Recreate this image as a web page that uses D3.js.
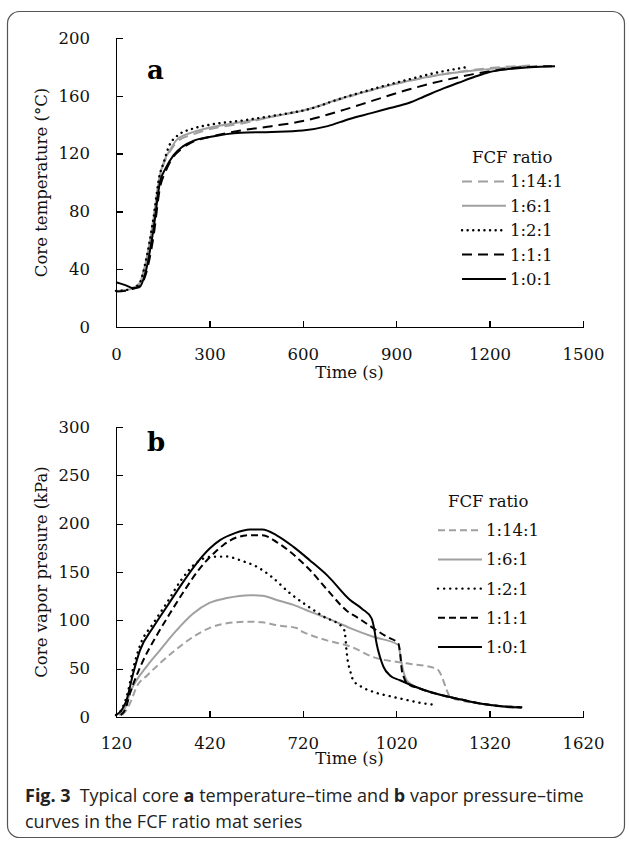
<!DOCTYPE html>
<html lang="en">
<head>
  <meta charset="UTF-8">
  <title>Core temperature and vapor pressure</title>
  <script src="https://d3js.org/d3.v7.min.js"></script>
  <style>
    body { margin: 0; background: #fff; }
    .axis path, .axis line { fill: none; stroke: #000; stroke-width: 1.3; shape-rendering: crispEdges; }
    .axis text { font-family: "DejaVu Serif", serif; font-size: 16.5px; fill: #111; }
    .lbl { font-family: "DejaVu Serif", serif; font-size: 16.5px; fill: #111; }
    .cap { font-family: "Open Sans", sans-serif; font-size: 18px; fill: #222; }
  </style>
</head>
<body>
  <svg id="svg" width="629" height="843"></svg>
  <script>
    // series names, in legend order
    var ratios = ['1:14:1', '1:6:1', '1:2:1', '1:1:1', '1:0:1']

    // (a) core temperature (°C) vs time (s)
    var tempA_1141 = [[0,25],[30,25.5],[55,27],[75,30],[95,44],[120,74],[140,103],[155,114],[175,122],[195,128],[250,133.5],[302,137],[409,141],[500,145.5],[623,151],[720,157.5],[830,164.5],[934,170],[1040,174.5],[1148,178],[1250,180],[1330,181]]
    var tempA_161 = [[0,25],[30,25.5],[55,27],[75,30],[95,44],[120,74],[140,104],[155,115],[175,123],[195,129.5],[250,135],[302,138],[409,142],[500,145.5],[623,151],[720,158],[830,164.5],[934,170],[1040,174.5],[1148,177.5],[1250,179.5],[1320,180.5]]
    var tempA_121 = [[0,25],[30,25.5],[55,27],[75,30],[95,45],[120,75],[140,105],[152,113],[170,125],[195,132],[250,137.5],[302,140],[409,143],[500,146],[623,151],[720,158],[830,165],[934,171],[1040,176.5],[1132,180]]
    var tempA_111 = [[0,24.5],[30,25],[55,26.5],[75,28],[95,36],[120,62],[141,96],[160,108],[185,118],[215,124],[250,128.5],[300,131.5],[400,136],[500,139],[600,142.5],[720,149.5],[830,157],[934,164],[1040,170],[1148,175],[1250,178.5],[1320,180],[1400,180.5]]
    var tempA_101 = [[0,31],[30,29],[55,27],[75,27.5],[95,38],[120,67],[141,100],[160,110],[185,119],[215,125],[250,129],[300,131.5],[400,134.5],[500,135],[600,136],[680,139],[750,144],[820,148],[880,151.5],[940,155],[990,159.5],[1050,165],[1100,169],[1150,173],[1200,176.5],[1260,178.5],[1330,179.8],[1410,180.5]]

    // (b) core vapor pressure (kPa) vs time (s)
    var presB_1141 = [[140,2],[155,8],[170,18],[186,31],[220,43],[261,55.5],[310,69],[368,83],[420,92],[476,97],[550,98.6],[590,98],[636,95],[700,92],[720,88],[743,85],[800,79],[872,73],[946,62],[1054,55.5],[1150,50],[1162,45],[1171,38],[1182,28],[1193,21],[1230,17],[1289,14],[1350,11],[1410,9]]
    var presB_161 = [[130,2],[150,10],[165,25],[186,38],[220,53],[261,69],[310,88],[368,107],[420,118],[476,123],[550,126],[590,125.5],[636,121],[690,116],[743,109],[800,102],[872,92],[946,83],[1027,74.5],[1035,60],[1045,45],[1054,38],[1100,29],[1161,23],[1230,18],[1289,14],[1350,11.5],[1420,10]]
    var presB_121 = [[120,2],[140,9],[155,22],[175,50],[197,74],[240,97],[283,118],[330,142],[380,160],[420,165.5],[475,166],[520,162],[572,155.5],[620,145],[679,128],[730,116],[786,104],[850,92],[856,85],[860,70],[864,59],[872,48],[882,38],[910,31],[946,26],[1000,21.5],[1054,17.6],[1100,14.5],[1150,12.4]]
    var presB_111 = [[135,2],[150,8],[165,24.5],[185,42],[208,59],[250,84],[293,107],[340,131],[390,154],[430,168],[465,178],[510,186],[550,188],[590,188],[636,181],[690,168],[743,152],[800,131],[861,110],[900,102],[946,92],[990,83],[1027,76],[1033,65],[1038,48.6],[1046,40],[1054,35],[1100,29],[1161,23],[1230,18],[1289,14],[1350,11.5],[1425,10]]
    var presB_101 = [[120,2],[140,8],[154,17.6],[175,45],[197,69],[240,93],[283,114],[330,137],[379,159],[420,174],[454,183],[500,190],[550,194],[590,194],[636,188],[690,176],[743,162],[800,146],[872,121],[910,112],[941,102],[950,90],[957,76],[968,62],[979,52],[1000,43],[1032,38],[1100,29],[1161,23],[1230,18],[1289,14],[1350,11.5],[1423,9.5]]

    var ticksA_x = [0, 300, 600, 900, 1200, 1500]
    var ticksA_y = [0, 40, 80, 120, 160, 200]
    var ticksB_x = [120, 420, 720, 1020, 1320, 1620]
    var ticksB_y = [0, 50, 100, 150, 200, 250, 300]

    var svg = d3.select('#svg')
    svg.append('rect').attr('width', 629).attr('height', 843).attr('fill', '#fff')
    svg.append('rect')
      .attr('x', 7.5).attr('y', 11.5).attr('width', 617).attr('height', 826)
      .attr('rx', 12).attr('fill', 'none').attr('stroke', '#555').attr('stroke-width', 1.2)

    // line styles per ratio (dash is filled in per panel)
    var styles = {
      '1:14:1': { color: '#a0a0a0', dash: 'd' },
      '1:6:1': { color: '#a0a0a0', dash: null },
      '1:2:1': { color: '#000', dash: 'dot' },
      '1:1:1': { color: '#000', dash: 'd' },
      '1:0:1': { color: '#000', dash: null }
    }

    function applyStyle(sel, name, opt) {
      var st = styles[name]
      sel.attr('fill', 'none')
        .attr('stroke', st.color)
        .attr('stroke-width', st.dash === 'dot' ? 2.4 : 2)
        .attr('stroke-dasharray', st.dash === 'dot' ? opt.dot : (st.dash ? opt.dash : null))
        .attr('stroke-linecap', st.dash === 'dot' ? 'round' : 'butt')
    }

    function panel(opt) {
      var x = d3.scaleLinear().domain(opt.xDomain).range([116, 583])
      var y = d3.scaleLinear().domain(opt.yDomain).range([opt.bottom, opt.top])
      var g = svg.append('g')

      g.append('g').attr('class', 'axis')
        .attr('transform', 'translate(0,' + opt.bottom + ')')
        .call(d3.axisBottom(x).tickValues(opt.xTicks).tickFormat(d3.format('d'))
          .tickSizeInner(-6).tickSizeOuter(-6).tickPadding(opt.xPad))
      g.append('g').attr('class', 'axis')
        .attr('transform', 'translate(116,0)')
        .call(d3.axisLeft(y).tickValues(opt.yTicks).tickFormat(d3.format('d'))
          .tickSizeInner(-7).tickSizeOuter(-7).tickPadding(26))
      g.selectAll('.axis').attr('font-family', '"DejaVu Serif", serif')

      var line = d3.line().x(d => x(d[0])).y(d => y(d[1])).curve(d3.curveMonotoneX)
      opt.series.forEach(function (s) {
        g.append('path').datum(s.data).attr('d', line).call(applyStyle, s.name, opt)
      })

      g.append('text').attr('class', 'lbl')
        .attr('x', 349.5).attr('y', opt.titleY)
        .attr('text-anchor', 'middle').text('Time (s)')
      g.append('text').attr('class', 'lbl')
        .attr('transform', 'translate(47,' + ((opt.top + opt.bottom) / 2) + ') rotate(-90)')
        .attr('text-anchor', 'middle').text(opt.yTitle)
      g.append('text')
        .attr('x', 147).attr('y', opt.letterY)
        .style('font-family', '"DejaVu Serif", serif').style('font-weight', 'bold').style('font-size', '26px')
        .text(opt.letter)

      // legend
      var lg = g.append('g')
      lg.append('text').attr('class', 'lbl').attr('x', opt.legX + 10).attr('y', opt.legY)
        .text('FCF ratio')
      ratios.forEach(function (r, i) {
        var by = opt.legY + opt.legStep * (i + 1)
        lg.append('line')
          .attr('x1', opt.legX).attr('x2', opt.legX + opt.legLen)
          .attr('y1', by - 6).attr('y2', by - 6)
          .call(applyStyle, r, opt)
        lg.append('text').attr('class', 'lbl')
          .attr('x', opt.legX + opt.legLen + 4).attr('y', by).text(r)
      })
    }

    panel({
      xDomain: [0, 1500], yDomain: [0, 200], top: 38, bottom: 327,
      xTicks: ticksA_x, yTicks: ticksA_y, xPad: 21, titleY: 378,
      yTitle: 'Core temperature (°C)', letter: 'a', letterY: 79, dash: '10,6', dot: '0.1,5.5',
      legX: 462, legY: 163, legStep: 24.4, legLen: 44,
      series: [
        { name: '1:14:1', data: tempA_1141 },
        { name: '1:6:1', data: tempA_161 },
        { name: '1:2:1', data: tempA_121 },
        { name: '1:1:1', data: tempA_111 },
        { name: '1:0:1', data: tempA_101 }
      ]
    })

    panel({
      xDomain: [120, 1620], yDomain: [0, 300], top: 427, bottom: 717,
      xTicks: ticksB_x, yTicks: ticksB_y, xPad: 20, titleY: 764,
      yTitle: 'Core vapor presure (kPa)', letter: 'b', letterY: 451, dash: '7,4', dot: '0.1,6',
      legX: 438, legY: 507, legStep: 29.2, legLen: 44,
      series: [
        { name: '1:14:1', data: presB_1141 },
        { name: '1:6:1', data: presB_161 },
        { name: '1:2:1', data: presB_121 },
        { name: '1:1:1', data: presB_111 },
        { name: '1:0:1', data: presB_101 }
      ]
    })

    // caption
    var cap = svg.append('text').attr('class', 'cap').attr('x', 25).attr('y', 802)
    cap.append('tspan').style('font-weight', 'bold').text('Fig. 3')
    cap.append('tspan').attr('dx', 9).text('Typical core ')
    cap.append('tspan').style('font-weight', 'bold').text('a')
    cap.append('tspan').text(' temperature–time and ')
    cap.append('tspan').style('font-weight', 'bold').text('b')
    cap.append('tspan').text(' vapor pressure–time')
    svg.append('text').attr('class', 'cap').attr('x', 25).attr('y', 828)
      .text('curves in the FCF ratio mat series')
  </script>
</body>
</html>
